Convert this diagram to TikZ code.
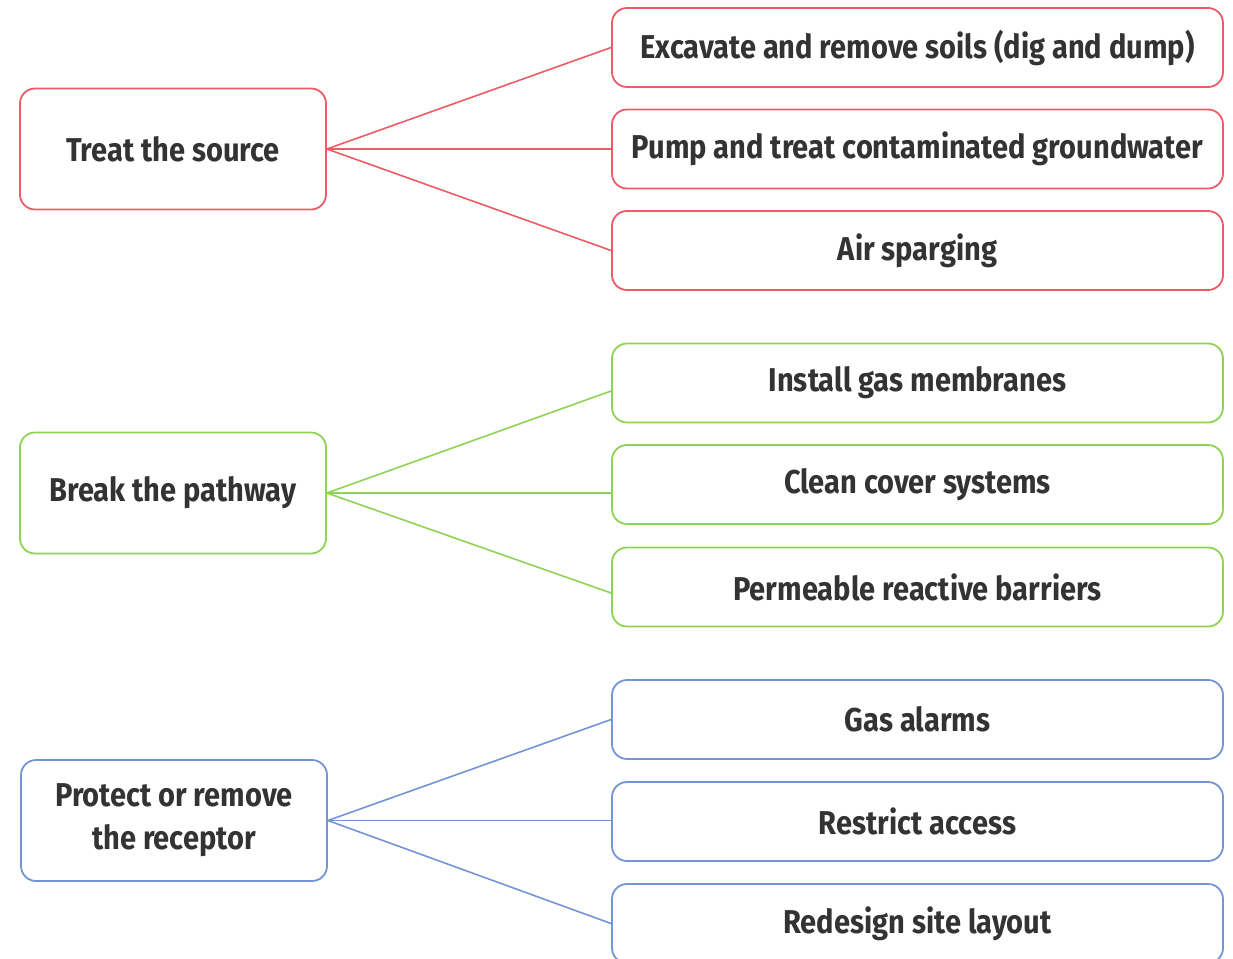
\documentclass[tikz,border=0pt]{standalone}
\usepackage{fontspec}
\usetikzlibrary{calc}
\setmainfont{Fira Sans}[FakeStretch=0.88]
\definecolor{cred}{HTML}{EE5A66}
\definecolor{cgreen}{HTML}{8ED352}
\definecolor{cblue}{HTML}{7395D6}
\definecolor{ctext}{HTML}{333333}
\begin{document}
\begin{tikzpicture}[x=1pt,y=-1pt,
  box/.style={draw, line width=1.8pt, rounded corners=15pt, fill=white,
    text=ctext, align=center, inner sep=0pt,
    font=\fontsize{33}{43}\selectfont\bfseries},
  leftbox/.style={box, minimum width=306pt, minimum height=121pt},
  rightbox/.style={box, minimum width=611pt, minimum height=79pt},
  link/.style={line width=1.6pt}]
\useasboundingbox (0,0) rectangle (1233,958);
% red group
\node[leftbox, draw=cred] (treat) at (173,149) {Treat the source};
\node[rightbox, draw=cred] (r1) at (917.5,47.5) {Excavate and remove soils (dig and dump)};
\node[rightbox, draw=cred] (r2) at (917.5,149) {Pump and treat contaminated groundwater};
\node[rightbox, draw=cred] (r3) at (917.5,250.5) {Air sparging};
\draw[link, cred] (treat.east) -- (r1.west);
\draw[link, cred] (treat.east) -- (r2.west);
\draw[link, cred] (treat.east) -- (r3.west);
% green group
\node[leftbox, draw=cgreen] (break) at (173,493) {Break the pathway};
\node[rightbox, draw=cgreen] (g1) at (917.5,383) {Install gas membranes};
\node[rightbox, draw=cgreen] (g2) at (917.5,484.5) {Clean cover systems};
\node[rightbox, draw=cgreen] (g3) at (917.5,587) {Permeable reactive barriers};
\draw[link, cgreen] (break.east) -- ($(g1.west)+(0,8)$);
\draw[link, cgreen] (break.east) -- (g2.west |- break.east);
\draw[link, cgreen] (break.east) -- ($(g3.west)+(0,6)$);
% blue group
\node[leftbox, draw=cblue] (protect) at (174,820.5) {Protect or remove\\the receptor};
\node[rightbox, draw=cblue] (b1) at (917.5,719.5) {Gas alarms};
\node[rightbox, draw=cblue] (b2) at (917.5,821.5) {Restrict access};
\node[rightbox, draw=cblue] (b3) at (917.5,923.5) {Redesign site layout};
\draw[link, cblue] (protect.east) -- (b1.west);
\draw[link, cblue] (protect.east) -- (b2.west |- protect.east);
\draw[link, cblue] (protect.east) -- (b3.west);
\end{tikzpicture}
\end{document}
